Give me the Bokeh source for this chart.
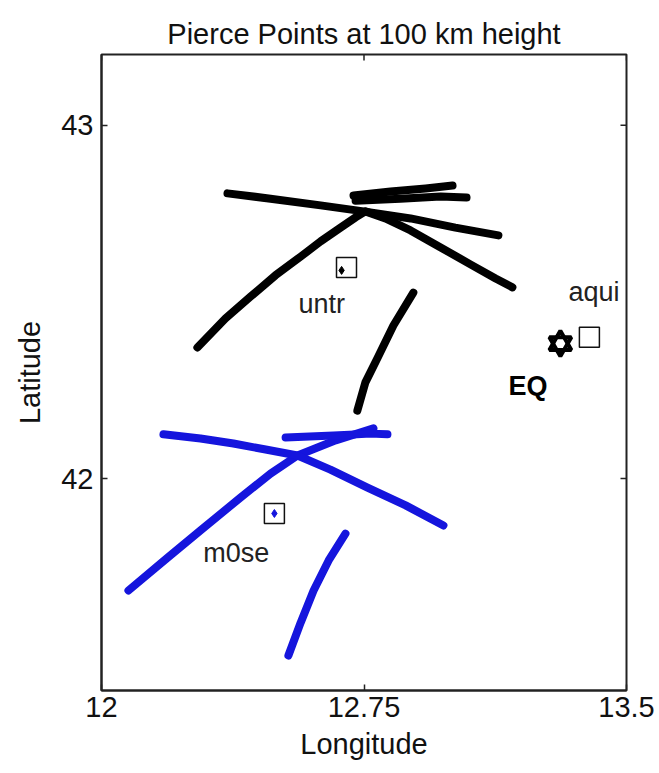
import math
from bokeh.plotting import figure
from bokeh.models import FixedTicker, Range1d
from bokeh.core.properties import value
from bokeh.embed import file_html
from bokeh.resources import INLINE

FONT = "Liberation Sans"

# Pierce-point tracks for receiver untr (black), one list per satellite pass
untr_lon = [
    [12.274, 12.354, 12.426, 12.497, 12.569, 12.626, 12.683, 12.726, 12.754,
     12.811, 12.883, 12.969, 13.054, 13.126, 13.174],
    [12.360, 12.483, 12.626, 12.749, 12.883, 13.011, 13.134],
    [12.720, 12.826, 12.926, 13.003],
    [12.726, 12.854, 12.969, 13.043],
    [12.731, 12.754, 12.789, 12.834, 12.891],
]
untr_lat = [
    [42.371, 42.453, 42.515, 42.575, 42.628, 42.671, 42.710, 42.739, 42.756,
     42.736, 42.702, 42.654, 42.606, 42.566, 42.541],
    [42.807, 42.792, 42.773, 42.756, 42.736, 42.710, 42.688],
    [42.801, 42.812, 42.821, 42.829],
    [42.786, 42.792, 42.798, 42.795],
    [42.192, 42.272, 42.342, 42.433, 42.526],
]

# Pierce-point tracks for receiver m0se (blue)
m0se_lon = [
    [12.077, 12.189, 12.283, 12.397, 12.483, 12.560, 12.669, 12.777],
    [12.177, 12.283, 12.377, 12.469, 12.560, 12.654, 12.760, 12.869, 12.977],
    [12.526, 12.663, 12.769, 12.817],
    [12.534, 12.569, 12.606, 12.649, 12.697],
]
m0se_lat = [
    [41.683, 41.776, 41.853, 41.946, 42.014, 42.065, 42.108, 42.142],
    [42.125, 42.113, 42.099, 42.082, 42.065, 42.025, 41.974, 41.924, 41.867],
    [42.116, 42.122, 42.127, 42.125],
    [41.499, 41.592, 41.683, 41.768, 41.844],
]

# GPS stations and their name labels
station_names = ["untr", "m0se", "aqui"]
station_lon = [12.700, 12.494, 13.394]
station_lat = [42.597, 41.901, 42.400]
station_dot_lon = [12.686, 12.494]
station_dot_lat = [42.589, 41.901]
station_dot_color = ["black", "#1515dd"]
label_lon = [12.563, 12.291, 13.334]
label_lat = [42.495, 41.790, 42.528]

# Epicentre
eq_lon = [13.311]
eq_lat = [42.382]
eq_label_lon = [13.163]
eq_label_lat = [42.262]

x_min, x_max = 12.0, 13.5
y_min, y_max = 41.4, 43.2
x_ticks = [12, 12.75, 13.5]
x_tick_labels = ["12", "12.75", "13.5"]
y_ticks = [42, 43]
y_tick_labels = ["42", "43"]

p = figure(
    width=659, height=773,
    x_range=Range1d(x_min, x_max), y_range=Range1d(y_min, y_max),
    output_backend="svg", toolbar_location=None,
    title="Pierce Points at 100 km height",
    min_border_left=101, min_border_right=33,
    min_border_top=54, min_border_bottom=83,
)
p.grid.visible = False
p.outline_line_color = "#222222"
p.outline_line_width = 2
p.background_fill_color = "white"
p.border_fill_color = "white"

p.title.align = "center"
p.title.text_font = FONT
p.title.text_font_size = "29px"
p.title.text_font_style = "normal"
p.title.text_color = "#111111"


def style_axis(ax, ticks, labels):
    ax.ticker = FixedTicker(ticks=ticks)
    ax.major_label_overrides = {t: s for t, s in zip(ticks, labels)}
    ax.major_tick_in = 6
    ax.major_tick_out = 0
    ax.minor_tick_line_color = None
    ax.major_tick_line_color = "#222222"
    ax.major_tick_line_width = 1.5
    ax.axis_line_color = "#222222"
    ax.axis_line_width = 2
    ax.major_label_text_font = FONT
    ax.major_label_text_color = "#111111"
    ax.major_label_text_font_size = "29px"
    ax.axis_label_text_font = FONT
    ax.axis_label_text_font_style = "normal"
    ax.axis_label_text_color = "#111111"
    ax.axis_label_text_font_size = "29px"


style_axis(p.xaxis[0], x_ticks, x_tick_labels)
style_axis(p.yaxis[0], y_ticks, y_tick_labels)
p.xaxis[0].axis_label = "Longitude"
p.yaxis[0].axis_label = "Latitude"
p.xaxis[0].major_label_standoff = 6
p.yaxis[0].major_label_standoff = 8
p.xaxis[0].axis_label_standoff = 8
p.yaxis[0].axis_label_standoff = 12

# inward tick marks on the top and right sides of the box
# (dash markers centred on the frame edge; the outer half is clipped)
p.scatter(x_ticks, [y_max] * len(x_ticks), marker="dash", size=12,
          angle=math.pi / 2, line_color="#222222", line_width=1.5)
p.scatter([x_max] * len(y_ticks), y_ticks, marker="dash", size=12,
          angle=0, line_color="#222222", line_width=1.5)

# tracks
p.multi_line(untr_lon, untr_lat, line_color="black", line_width=8,
             line_cap="round", line_join="round")
p.multi_line(m0se_lon, m0se_lat, line_color="#1515dd", line_width=8,
             line_cap="round", line_join="round")

# stations
p.scatter(station_lon, station_lat, marker="square", size=20,
          fill_color=None, line_color="#111111", line_width=1.5)
p.scatter(station_dot_lon, station_dot_lat, marker="diamond", size=8,
          fill_color=station_dot_color, line_color=station_dot_color)
p.text(label_lon, label_lat, text=station_names, text_font=value(FONT),
       text_font_size="27px", text_color="#222222",
       text_align="left", text_baseline="alphabetic")

# epicentre as a six-pointed star
for mk in ["triangle", "inverted_triangle"]:
    p.scatter(eq_lon, eq_lat, marker=mk, size=22, fill_color="white",
              line_color=None)
for mk in ["triangle", "inverted_triangle"]:
    p.scatter(eq_lon, eq_lat, marker=mk, size=22, fill_color=None,
              line_color="black", line_width=4)
p.text(eq_label_lon, eq_label_lat, text=["EQ"], text_font=value(FONT),
       text_font_size="27px", text_font_style="bold", text_color="black",
       text_align="left", text_baseline="alphabetic")

open("out.html", "w").write(file_html(p, INLINE))
